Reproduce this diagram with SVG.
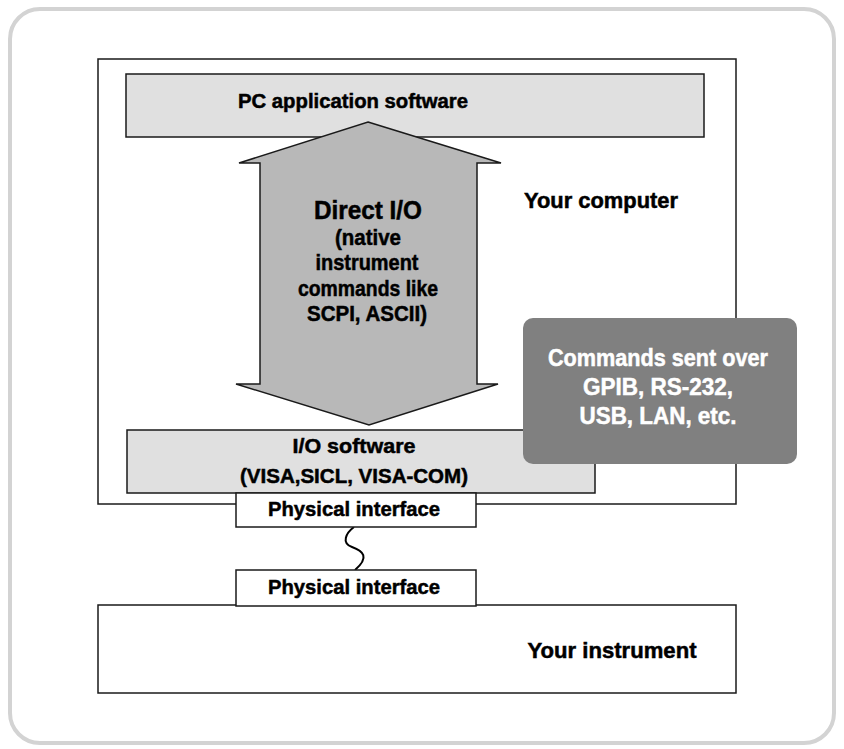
<svg xmlns="http://www.w3.org/2000/svg" width="844" height="749" viewBox="0 0 844 749">
<style>
.t{font-family:"Liberation Sans",Arial,sans-serif;font-weight:bold;fill:#000;stroke:#000;stroke-width:0.5;text-anchor:middle}
.w{fill:#fff;stroke:#fff}
.box{stroke:#1a1a1a;stroke-width:1.5}
</style>
<rect x="0" y="0" width="844" height="749" fill="#fff"/>
<rect id="frame" x="10" y="9" width="824" height="734" rx="30" ry="30" fill="#fff" stroke="#d3d3d3" stroke-width="4"/>

<g id="computer">
<rect class="box" x="98" y="59" width="638" height="445" fill="#fff"/>
<text class="t" x="601" y="208" font-size="21.5" textLength="154" lengthAdjust="spacingAndGlyphs">Your computer</text>
</g>

<g id="pc-app">
<rect class="box" x="126" y="74" width="578" height="63" fill="#e0e0e0"/>
<text class="t" x="353" y="108" font-size="20" textLength="230" lengthAdjust="spacingAndGlyphs">PC application software</text>
</g>

<g id="connectors">
<g id="direct-io">
<polygon class="box" points="368,122 501,163 477,163 477,384 498,384 369,425 236,384 260,384 260,163 239,163" fill="#b8b8b8"/>
<text class="t" x="368" y="219" font-size="25" textLength="108" lengthAdjust="spacingAndGlyphs">Direct I/O</text>
<text class="t" x="368" y="245" font-size="22" textLength="66" lengthAdjust="spacingAndGlyphs">(native</text>
<text class="t" x="367" y="270" font-size="22" textLength="103" lengthAdjust="spacingAndGlyphs">instrument</text>
<text class="t" x="368" y="296" font-size="22" textLength="140" lengthAdjust="spacingAndGlyphs">commands like</text>
<text class="t" x="367" y="321" font-size="22" textLength="120" lengthAdjust="spacingAndGlyphs">SCPI, ASCII)</text>
</g>
<path id="cable" d="M354,527 C346,533 341,543 352,547 C363,551 370,557 355,570" fill="none" stroke="#000" stroke-width="2"/>
</g>

<g id="io-software">
<rect class="box" x="127" y="430" width="468" height="63" fill="#e0e0e0"/>
<text class="t" x="354" y="453" font-size="20.5" textLength="123" lengthAdjust="spacingAndGlyphs">I/O software</text>
<text class="t" x="354" y="483" font-size="20.5" textLength="228" lengthAdjust="spacingAndGlyphs">(VISA,SICL, VISA-COM)</text>
</g>

<g id="commands-note">
<rect x="523" y="318" width="274" height="146" rx="10" ry="10" fill="#808080"/>
<text class="t w" x="658" y="366" font-size="24" textLength="220" lengthAdjust="spacingAndGlyphs">Commands sent over</text>
<text class="t w" x="658" y="395" font-size="24" textLength="150" lengthAdjust="spacingAndGlyphs">GPIB, RS-232,</text>
<text class="t w" x="658" y="424" font-size="24" textLength="157" lengthAdjust="spacingAndGlyphs">USB, LAN, etc.</text>
</g>

<g id="instrument">
<rect class="box" x="98" y="605" width="638" height="88" fill="#fff"/>
<text class="t" x="612" y="658" font-size="21.5" textLength="169" lengthAdjust="spacingAndGlyphs">Your instrument</text>
</g>

<g id="phys-if-computer">
<rect class="box" x="236" y="493" width="240" height="34" fill="#fff"/>
<text class="t" x="354" y="516" font-size="21" textLength="172" lengthAdjust="spacingAndGlyphs">Physical interface</text>
</g>

<g id="phys-if-instrument">
<rect class="box" x="236" y="570" width="240" height="36" fill="#fff"/>
<text class="t" x="354" y="594" font-size="21" textLength="172" lengthAdjust="spacingAndGlyphs">Physical interface</text>
</g>
</svg>
